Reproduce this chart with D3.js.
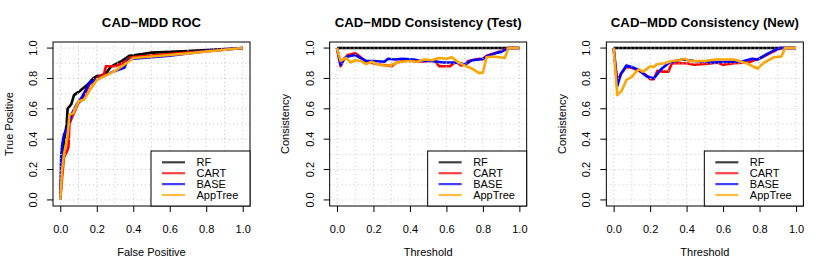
<!DOCTYPE html>
<html>
<head>
<meta charset="utf-8">
<script src="https://cdn.jsdelivr.net/npm/d3@7"></script>
<style>
  body { margin: 0; background: #fff; }
  svg text { font-family: "Liberation Sans", Arial, Helvetica, sans-serif; }
</style>
</head>
<body>
<svg id="vis" width="830" height="260"></svg>
<script>
// ---- data ----
var panelTitles = ["CAD\u2212MDD ROC", "CAD\u2212MDD Consistency (Test)", "CAD\u2212MDD Consistency (New)"]
var xLabels = ["False Positive", "Threshold", "Threshold"]
var yLabels = ["True Positive", "Consistency", "Consistency"]
var seriesNames = ["RF", "CART", "BASE", "AppTree"]
var tickValues = [0, 0.2, 0.4, 0.6, 0.8, 1.0]
var gridValues = [0, 0.1, 0.2, 0.3, 0.4, 0.5, 0.6, 0.7, 0.8, 0.9, 1.0]

// ROC: [false positive, true positive]
var rocRF = [[0,0],[0.01,0.25],[0.02,0.38],[0.035,0.5],[0.04,0.6],[0.06,0.63],[0.075,0.69],[0.11,0.72],[0.15,0.76],[0.18,0.8],[0.2,0.815],[0.24,0.82],[0.28,0.88],[0.33,0.91],[0.38,0.95],[0.45,0.96],[0.5,0.97],[0.7,0.98],[1,1]]
var rocCART = [[0,0],[0.01,0.15],[0.02,0.28],[0.04,0.33],[0.045,0.35],[0.05,0.5],[0.07,0.56],[0.1,0.64],[0.12,0.66],[0.16,0.76],[0.21,0.81],[0.24,0.83],[0.25,0.88],[0.3,0.88],[0.34,0.9],[0.39,0.94],[0.5,0.95],[0.7,0.97],[1,1]]
var rocBASE = [[0,0],[0.005,0.3],[0.01,0.36],[0.02,0.43],[0.04,0.48],[0.06,0.56],[0.09,0.63],[0.12,0.68],[0.16,0.77],[0.19,0.79],[0.23,0.81],[0.28,0.84],[0.35,0.87],[0.37,0.92],[0.4,0.93],[0.6,0.95],[0.8,0.98],[1,1]]
var rocAppTree = [[0,0],[0.01,0.2],[0.02,0.3],[0.04,0.42],[0.05,0.56],[0.07,0.57],[0.1,0.65],[0.13,0.66],[0.16,0.72],[0.2,0.79],[0.25,0.82],[0.3,0.85],[0.35,0.89],[0.4,0.935],[0.5,0.945],[0.7,0.965],[1,1]]

// consistency on test set: [threshold, consistency]
var testRF = [[0,1],[1,1]]
var testCART = [[0,1],[0.02,0.88],[0.04,0.93],[0.06,0.955],[0.1,0.965],[0.12,0.95],[0.16,0.91],[0.2,0.9],[0.24,0.89],[0.28,0.885],[0.3,0.88],[0.32,0.9],[0.36,0.915],[0.4,0.92],[0.44,0.91],[0.5,0.915],[0.54,0.915],[0.56,0.88],[0.6,0.88],[0.62,0.88],[0.64,0.9],[0.66,0.905],[0.68,0.885],[0.7,0.89],[0.72,0.915],[0.76,0.925],[0.78,0.93],[0.8,0.925],[0.82,0.95],[0.86,0.965],[0.9,0.98],[0.94,1],[1,1]]
var testBASE = [[0,1],[0.02,0.89],[0.04,0.93],[0.06,0.945],[0.1,0.955],[0.12,0.94],[0.16,0.915],[0.2,0.915],[0.26,0.91],[0.28,0.93],[0.32,0.925],[0.36,0.93],[0.42,0.925],[0.46,0.915],[0.52,0.915],[0.58,0.905],[0.64,0.905],[0.68,0.9],[0.7,0.89],[0.74,0.92],[0.78,0.925],[0.8,0.93],[0.84,0.955],[0.88,0.97],[0.9,0.975],[0.94,1],[1,1]]
var testAppTree = [[0,1],[0.02,0.915],[0.05,0.935],[0.075,0.905],[0.1,0.92],[0.13,0.915],[0.16,0.895],[0.19,0.91],[0.23,0.89],[0.26,0.885],[0.29,0.885],[0.32,0.9],[0.35,0.91],[0.4,0.915],[0.44,0.91],[0.48,0.925],[0.52,0.92],[0.56,0.935],[0.6,0.93],[0.63,0.94],[0.66,0.91],[0.7,0.885],[0.74,0.865],[0.78,0.835],[0.8,0.84],[0.82,0.94],[0.86,0.945],[0.92,0.935],[0.94,1],[1,1]]

// consistency on new data
var newRF = [[0,1],[1,1]]
var newCART = [[0,1],[0.02,0.78],[0.04,0.83],[0.07,0.875],[0.1,0.87],[0.14,0.85],[0.18,0.82],[0.2,0.795],[0.22,0.795],[0.24,0.85],[0.27,0.845],[0.3,0.845],[0.32,0.9],[0.36,0.9],[0.4,0.9],[0.44,0.89],[0.5,0.895],[0.54,0.9],[0.57,0.905],[0.6,0.89],[0.66,0.9],[0.74,0.905],[0.78,0.925],[0.8,0.93],[0.84,0.955],[0.88,0.98],[0.92,1],[1,1]]
var newBASE = [[0,1],[0.02,0.75],[0.04,0.83],[0.07,0.885],[0.1,0.875],[0.14,0.855],[0.18,0.815],[0.22,0.8],[0.26,0.86],[0.3,0.9],[0.34,0.915],[0.38,0.925],[0.44,0.915],[0.5,0.91],[0.55,0.905],[0.62,0.91],[0.7,0.91],[0.76,0.93],[0.79,0.925],[0.84,0.96],[0.88,0.985],[0.91,1],[1,1]]
var newAppTree = [[0,1],[0.02,0.69],[0.045,0.72],[0.07,0.79],[0.1,0.81],[0.12,0.84],[0.14,0.86],[0.16,0.845],[0.18,0.86],[0.2,0.88],[0.22,0.875],[0.24,0.895],[0.28,0.9],[0.32,0.915],[0.36,0.92],[0.39,0.93],[0.42,0.915],[0.5,0.915],[0.56,0.925],[0.62,0.925],[0.66,0.925],[0.7,0.91],[0.74,0.895],[0.77,0.875],[0.79,0.865],[0.82,0.9],[0.85,0.92],[0.88,0.94],[0.92,0.945],[0.94,1],[1,1]]

var panelSeries = [
  [rocRF, rocCART, rocBASE, rocAppTree],
  [testRF, testCART, testBASE, testAppTree],
  [newRF, newCART, newBASE, newAppTree]
]

var colors = ["black", "#ff0000", "#0000ff", "#ffa500"]

var dimensions = {
  panelWidth: 830 / 3,
  box: { left: 53, right: 250, top: 42, bottom: 206 }
}

var svg = d3.select("#vis")

panelSeries.forEach(function (series, p) {
  var g = svg.append("g")
    .attr("transform", "translate(" + (p * dimensions.panelWidth) + ",0)")
  var b = dimensions.box

  var xScale = d3.scaleLinear().domain([-0.04, 1.04]).range([b.left, b.right])
  var yScale = d3.scaleLinear().domain([-0.04, 1.04]).range([b.bottom, b.top])

  // clip lines to plot box
  g.append("clipPath").attr("id", "clip" + p)
    .append("rect")
    .attr("x", b.left).attr("y", b.top)
    .attr("width", b.right - b.left).attr("height", b.bottom - b.top)

  var line = d3.line()
    .x(function (d) { return xScale(d[0]) })
    .y(function (d) { return yScale(d[1]) })

  var plot = g.append("g").attr("clip-path", "url(#clip" + p + ")")

  series.forEach(function (s, i) {
    plot.append("path")
      .datum(s)
      .attr("fill", "none")
      .attr("stroke", colors[i])
      .attr("stroke-width", 2.6)
      .attr("stroke-linejoin", "round")
      .attr("d", line)
  })

  // grid drawn on top, dotted light gray
  plot.selectAll(".vgrid").data(gridValues).enter().append("line")
    .attr("x1", d => xScale(d)).attr("x2", d => xScale(d))
    .attr("y1", b.top).attr("y2", b.bottom)
    .attr("stroke", "#c8c8c8").attr("stroke-dasharray", "1,3")
  plot.selectAll(".hgrid").data(gridValues).enter().append("line")
    .attr("y1", d => yScale(d)).attr("y2", d => yScale(d))
    .attr("x1", b.left).attr("x2", b.right)
    .attr("stroke", "#c8c8c8").attr("stroke-dasharray", "1,3")

  // axes
  var xAxis = g.append("g")
    .attr("transform", "translate(0," + b.bottom + ")")
    .call(d3.axisBottom(xScale).tickValues(tickValues).tickSize(6).tickPadding(13)
      .tickFormat(d3.format(".1f")))
  xAxis.select(".domain").remove()
  xAxis.selectAll("text").style("font-size", "11px").attr("fill", "#000")

  var yAxis = g.append("g")
    .attr("transform", "translate(" + b.left + ",0)")
    .call(d3.axisLeft(yScale).tickValues(tickValues).tickSize(6).tickFormat(d3.format(".1f")))
  yAxis.select(".domain").remove()
  yAxis.selectAll("text")
    .style("font-size", "11px").attr("fill", "#000")
    .attr("x", null).attr("dy", null)
    .attr("text-anchor", "middle")
    .attr("transform", function (d) { return "translate(-16," + yScale(d) + ") rotate(-90)" })
    .attr("y", 0)
  yAxis.selectAll(".tick").attr("transform", null)
  yAxis.selectAll(".tick line")
    .attr("y1", d => yScale(d)).attr("y2", d => yScale(d))
  xAxis.selectAll("line").attr("stroke", "#000")
  yAxis.selectAll("line").attr("stroke", "#000")

  // box
  g.append("rect")
    .attr("x", b.left).attr("y", b.top)
    .attr("width", b.right - b.left).attr("height", b.bottom - b.top)
    .attr("fill", "none").attr("stroke", "#000").attr("stroke-width", 1)

  // titles and labels
  g.append("text")
    .attr("x", (b.left + b.right) / 2).attr("y", 26.5)
    .attr("text-anchor", "middle")
    .style("font-size", "13.2px").style("font-weight", "bold")
    .text(panelTitles[p])

  g.append("text")
    .attr("x", (b.left + b.right) / 2).attr("y", 255.5)
    .attr("text-anchor", "middle")
    .style("font-size", "11px")
    .text(xLabels[p])

  g.append("text")
    .attr("transform", "translate(12.5," + ((b.top + b.bottom) / 2) + ") rotate(-90)")
    .attr("text-anchor", "middle")
    .style("font-size", "11px")
    .text(yLabels[p])

  // legend bottom right
  var leg = g.append("g")
  leg.append("rect")
    .attr("x", 151).attr("y", 151)
    .attr("width", b.right - 151).attr("height", b.bottom - 151)
    .attr("fill", "#fff").attr("stroke", "#000")
  seriesNames.forEach(function (name, i) {
    var yy = 162.3 + i * 10.9
    leg.append("line")
      .attr("x1", 162).attr("x2", 185)
      .attr("y1", yy).attr("y2", yy)
      .attr("stroke", colors[i]).attr("stroke-width", 2.2).attr("stroke-opacity", 0.75)
    leg.append("text")
      .attr("x", 196.5).attr("y", yy + 4)
      .style("font-size", "11px")
      .text(name)
  })
})
</script>
</body>
</html>
